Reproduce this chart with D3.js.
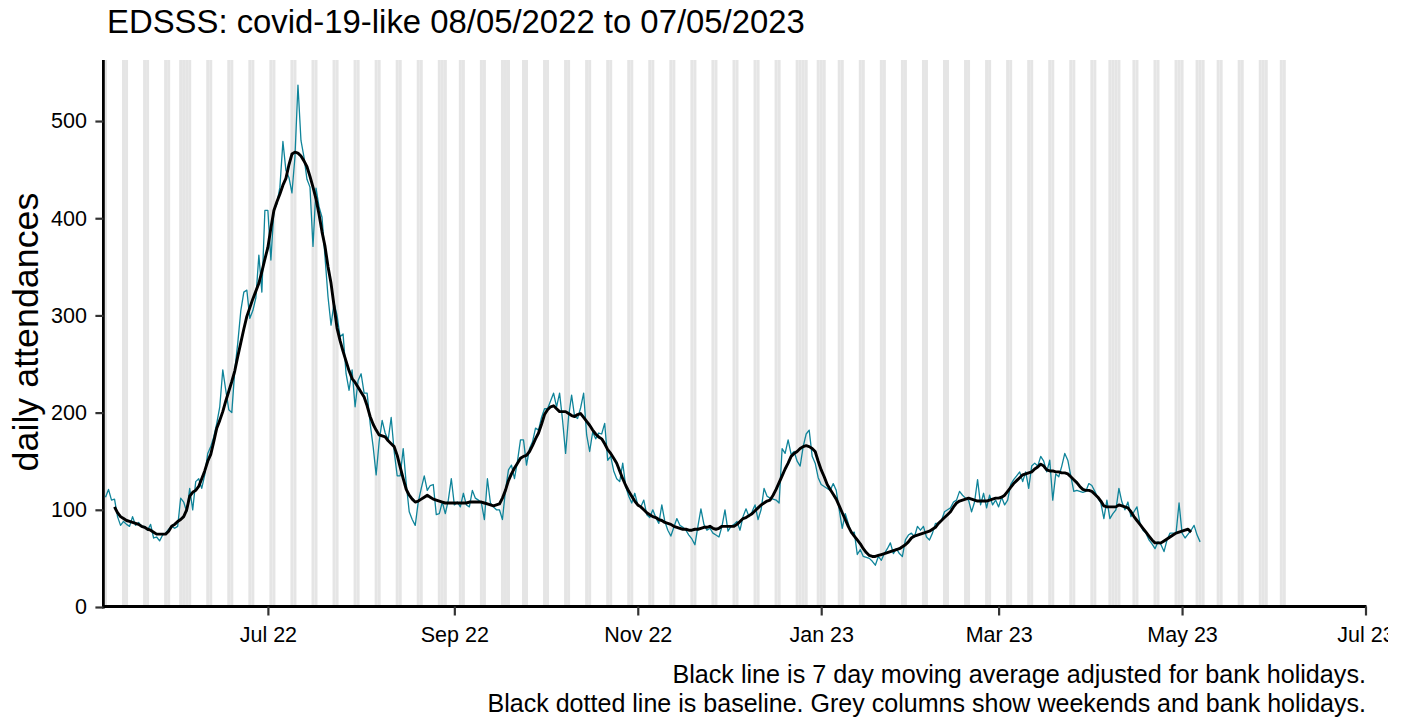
<!DOCTYPE html>
<html><head><meta charset="utf-8">
<script src="https://cdn.jsdelivr.net/npm/d3@7"></script>
<style>html,body{margin:0;padding:0;background:#fff;} svg{display:block;font-family:"Liberation Sans",Arial,sans-serif;}</style>
</head><body><svg id="chart" width="1388" height="719"></svg>
<script>
// ---------------- data ----------------
const startDate = "2022-05-08";
const dailyAttendances = [
113,121,110,111,93,84,88,85,83,93,
84,87,83,83,79,85,71,72,68,74,
76,80,83,81,83,112,108,98,122,100,
129,132,122,136,158,165,175,189,206,244,
223,203,200,244,272,305,324,326,297,305,
318,362,324,408,408,357,408,415,432,479,
449,442,426,463,537,480,463,440,432,371,
431,412,401,360,319,290,313,300,278,281,
240,223,244,206,233,240,220,220,189,165,
136,170,192,179,172,195,160,135,135,163,
127,98,90,84,108,122,135,120,125,126,
95,96,108,96,110,132,105,108,103,117,
105,103,120,112,110,107,90,132,107,103,
100,100,90,120,141,146,132,150,172,172,
146,163,170,184,182,195,204,204,212,220,
206,220,192,158,196,218,196,194,205,220,
177,160,180,173,179,178,189,151,155,140,
132,129,148,124,114,107,117,105,103,110,
95,92,100,92,86,105,88,79,73,82,
91,84,82,79,74,70,64,83,101,85,
79,81,76,74,72,83,100,78,83,85,
88,79,93,101,93,98,105,90,100,122,
114,112,111,110,107,163,158,172,157,160,
150,145,165,178,182,155,148,133,126,124,
122,120,127,120,100,81,96,86,76,77,
54,59,52,51,50,47,43,52,48,55,
60,66,55,60,55,52,69,74,76,72,
83,79,83,72,69,76,86,86,89,98,
100,102,108,110,119,115,112,110,98,108,
131,105,117,102,115,105,110,103,113,105,
110,126,131,135,139,129,139,122,145,148,
145,155,150,139,151,110,137,134,145,158,
151,135,119,120,119,118,119,127,125,119,
112,107,91,110,91,96,100,122,108,100,
108,93,98,103,86,79,76,69,65,60,
67,64,57,69,76,76,76,107,76,71,
75,79,84,74,67
];
const movingAverageStartDay = 3;
const movingAverage = [
103,97,93,91,89,88,87,
86,85,83,82,80,79,77,75,75,75,
75,78,83,85,88,90,93,100,114,118,
120,124,132,140,150,157,170,184,192,201,
212,222,232,243,258,272,286,299,308,317,
325,333,345,358,370,390,408,417,425,434,
441,455,466,468,467,464,459,453,443,432,
420,404,386,371,350,333,310,287,274,263,
253,243,235,231,226,221,216,207,196,188,
182,177,176,175,171,168,165,156,144,132,
121,115,111,108,109,111,113,115,113,111,
110,109,108,107,107,107,107,107,107,107,
107,108,108,108,108,108,107,106,105,104,
105,106,112,120,130,137,143,148,153,155,
156,160,166,173,179,188,198,203,206,207,
204,201,201,201,199,197,196,198,199,195,
191,187,182,178,175,173,168,162,158,153,
148,140,132,125,119,114,109,105,103,100,
97,95,93,92,90,89,87,86,85,83,
82,81,80,80,79,79,80,80,81,82,
82,83,81,80,81,83,83,83,83,83,
85,88,91,92,94,96,99,102,105,107,
109,110,115,121,128,135,142,148,155,158,
160,163,165,166,165,163,160,150,141,134,
126,121,116,111,104,97,90,83,77,73,
69,65,60,56,53,52,52,53,54,55,
56,57,58,59,60,62,64,67,71,73,
74,75,76,77,78,80,82,86,89,92,
95,98,103,107,109,110,111,112,111,110,
109,109,109,109,110,111,112,112,113,115,
119,123,127,130,133,136,137,138,139,142,
144,147,145,141,140,140,139,139,138,138,
137,134,131,128,124,121,120,120,119,116,
113,109,104,103,103,103,103,105,104,103,
102,98,93,89,85,81,77,73,69,66,
66,66,68,70,72,74,76,77,78,79,
80,77
];
const bankHolidays = ["2022-06-02","2022-06-03","2022-08-29","2022-09-19","2022-12-26","2022-12-27",
  "2023-01-02","2023-04-07","2023-04-10","2023-05-01","2023-05-08","2023-05-29"];
const shadeFrom = "2022-05-07";
const shadeTo = "2023-06-04";
const xDomain = ["2022-05-08", "2023-07-01"];
const xTickDates = ["2022-07-01","2022-09-01","2022-11-01","2023-01-01","2023-03-01","2023-05-01","2023-07-01"];
const xTickLabels = ["Jul 22","Sep 22","Nov 22","Jan 23","Mar 23","May 23","Jul 23"];
const yTickValues = [0,100,200,300,400,500];
const yMax = 562.8;
const titleText = "EDSSS: covid-19-like 08/05/2022 to 07/05/2023";
const yTitle = "daily attendances";
const captionLines = ["Black line is 7 day moving average adjusted for bank holidays.",
  "Black dotted line is baseline. Grey columns show weekends and bank holidays."];

// ---------------- drawing ----------------
const parse = d3.utcParse("%Y-%m-%d");
const DAY = 864e5;
const start = parse(startDate);
const dateOf = i => new Date(start.getTime() + i * DAY);

const L = 105, R = 1365.5, T = 60, B = 607;
const svg = d3.select("#chart");
const x = d3.scaleUtc().domain(xDomain.map(parse)).range([L + 0.5, R]);
const y = d3.scaleLinear().domain([0, yMax]).range([B, T]);

svg.append("defs").append("clipPath").attr("id", "plotclip")
  .append("rect").attr("x", L).attr("y", T).attr("width", R - L).attr("height", B - T);

// grey columns: weekends + bank holidays
const bh = new Set(bankHolidays);
const fmt = d3.utcFormat("%Y-%m-%d");
const shadeDays = d3.utcDays(parse(shadeFrom), new Date(parse(shadeTo).getTime() + DAY))
  .filter(d => d.getUTCDay() === 0 || d.getUTCDay() === 6 || bh.has(fmt(d)));
svg.append("g").attr("clip-path", "url(#plotclip)")
  .selectAll("rect").data(shadeDays).join("rect")
  .attr("x", d => x(new Date(d.getTime() - DAY / 2)))
  .attr("width", d => x(new Date(d.getTime() + DAY / 2)) - x(new Date(d.getTime() - DAY / 2)))
  .attr("y", T).attr("height", B - T)
  .attr("fill", "#e5e5e5");

// daily line
const lineDaily = d3.line().x((d, i) => x(dateOf(i))).y(d => y(d));
svg.append("path").datum(dailyAttendances).attr("d", lineDaily)
  .attr("fill", "none").attr("stroke", "#0f849a").attr("stroke-width", 1.3).attr("stroke-linejoin", "round");

// moving average
const lineMA = d3.line().x((d, i) => x(dateOf(i + movingAverageStartDay))).y(d => y(d));
svg.append("path").datum(movingAverage).attr("d", lineMA)
  .attr("fill", "none").attr("stroke", "#000").attr("stroke-width", 2.9).attr("stroke-linejoin", "round");

// axes
const xAxis = d3.axisBottom(x).tickValues(xTickDates.map(parse))
  .tickFormat((d, i) => xTickLabels[i]).tickSize(9).tickPadding(11);
const gx = svg.append("g").attr("transform", `translate(0,606.5)`).call(xAxis);
gx.select(".domain").attr("d", `M${L - 3},0H${R + 1}`).attr("stroke", "#000").attr("stroke-width", 2.8);
gx.selectAll(".tick line").attr("stroke", "#333").attr("stroke-width", 2.2);
gx.selectAll(".tick text").attr("font-size", 21.5).attr("fill", "#000").attr("font-family", "Liberation Sans, Arial, sans-serif");

const yAxis = d3.axisLeft(y).tickValues(yTickValues).tickSize(8).tickPadding(8.5);
const gy = svg.append("g").attr("transform", `translate(103.4,0)`).call(yAxis);
gy.select(".domain").attr("d", `M0,${T}V${B + 1.4}`).attr("stroke", "#000").attr("stroke-width", 2.8);
gy.selectAll(".tick line").attr("stroke", "#333").attr("stroke-width", 2.2);
gy.selectAll(".tick text").attr("font-size", 21.5).attr("fill", "#000").attr("font-family", "Liberation Sans, Arial, sans-serif");

// fit helper
function fit(sel, target) {
  const w = sel.node().getComputedTextLength();
  const fs = parseFloat(sel.attr("font-size"));
  sel.attr("font-size", fs * target / w);
}

// title
const t = svg.append("text").attr("x", 107).attr("y", 33).attr("font-size", 28).attr("fill", "#000").text(titleText);
fit(t, 698);

// y title
const yt = svg.append("text").attr("transform", "translate(38,332) rotate(-90)").attr("text-anchor", "middle")
  .attr("font-size", 28).attr("fill", "#000").text(yTitle);
fit(yt, 279);

// caption
const c1 = svg.append("text").attr("x", 1366).attr("y", 683).attr("text-anchor", "end").attr("font-size", 21).attr("fill", "#000").text(captionLines[0]);
fit(c1, 694);
const c2 = svg.append("text").attr("x", 1366).attr("y", 712).attr("text-anchor", "end").attr("font-size", 21).attr("fill", "#000").text(captionLines[1]);
fit(c2, 879);
</script>
</body></html>
